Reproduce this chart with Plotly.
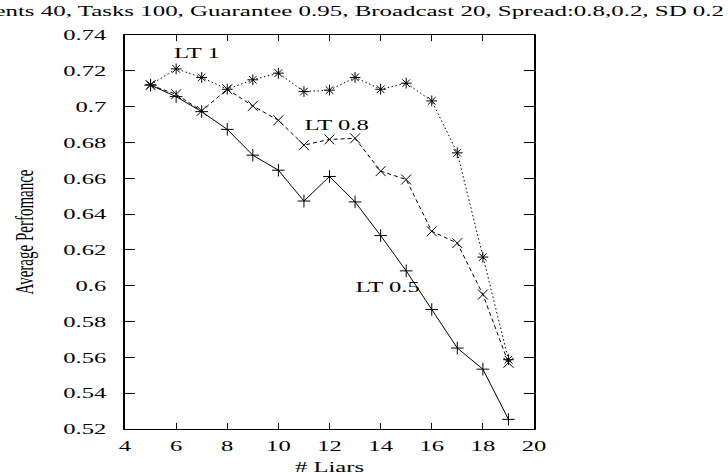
import plotly.graph_objects as go

# ---- data ----
liars = [5, 6, 7, 8, 9, 10, 11, 12, 13, 14, 15, 16, 17, 18, 19]
lt_05 = [0.7120, 0.7056, 0.6972, 0.6873, 0.6729, 0.6645, 0.6473, 0.6610,
         0.6468, 0.6280, 0.6083, 0.5867, 0.5652, 0.5534, 0.5254]
lt_08 = [0.7120, 0.7069, 0.6976, 0.7097, 0.7004, 0.6924, 0.6785, 0.6817,
         0.6823, 0.6640, 0.6593, 0.6304, 0.6238, 0.5951, 0.5570]
lt_1 = [0.7122, 0.7211, 0.7163, 0.7097, 0.7150, 0.7187, 0.7084, 0.7092,
        0.7163, 0.7097, 0.7131, 0.7032, 0.6742, 0.6160, 0.5587]
series_names = ["LT 0.5", "LT 0.8", "LT 1"]
x_tickvals = [4, 6, 8, 10, 12, 14, 16, 18, 20]
y_tickvals = [0.52, 0.54, 0.56, 0.58, 0.60, 0.62, 0.64, 0.66, 0.68, 0.70, 0.72, 0.74]
y_ticktext = ["0.52", "0.54", "0.56", "0.58", "0.6", "0.62", "0.64", "0.66",
              "0.68", "0.7", "0.72", "0.74"]
title_text = "Agents 40, Tasks 100, Guarantee 0.95, Broadcast 20, Spread:0.8,0.2, SD 0.2"
x_title = "# Liars"
y_title = "Average Perfomance"

FONT = "Liberation Serif"
BLACK = "#000000"

fig = go.Figure()

fig.add_trace(go.Scatter(
    x=liars, y=lt_1, name=series_names[2], mode="lines+markers",
    line=dict(color=BLACK, width=1, dash="1.5px,2.5px"),
    marker=dict(symbol="asterisk-open", size=9, color=BLACK, line=dict(color=BLACK, width=1)),
))
fig.add_trace(go.Scatter(
    x=liars, y=lt_08, name=series_names[1], mode="lines+markers",
    line=dict(color=BLACK, width=1, dash="4px,3px"),
    marker=dict(symbol="x-thin-open", size=10, color=BLACK, line=dict(color=BLACK, width=1)),
))
fig.add_trace(go.Scatter(
    x=liars, y=lt_05, name=series_names[0], mode="lines+markers",
    line=dict(color=BLACK, width=1),
    marker=dict(symbol="cross-thin-open", size=9, color=BLACK, line=dict(color=BLACK, width=1)),
))

# in-plot series labels
label_pos = {"LT 1": (6.82, 0.7301), "LT 0.8": (12.27, 0.6897), "LT 0.5": (14.27, 0.5994)}
for name in series_names:
    px, py = label_pos[name]
    fig.add_annotation(x=px, y=py, xref="x", yref="y", text=name, showarrow=False,
                       xanchor="center", yanchor="middle",
                       font=dict(family=FONT, size=15, color=BLACK))

axis_common = dict(
    showline=True, linecolor=BLACK, mirror="allticks", ticks="inside",
    tickcolor=BLACK, tickwidth=1, showgrid=False, zeroline=False,
    automargin=False,
    tickfont=dict(family=FONT, size=15, color=BLACK),
)

fig.update_layout(
    width=728, height=475,
    margin=dict(l=125, r=194, t=35, b=46, autoexpand=False),
    paper_bgcolor="white", plot_bgcolor="white",
    showlegend=False,
    font=dict(family=FONT, size=15, color=BLACK),
    title=dict(text=title_text, xref="container", yref="container", automargin=False,
               x=724 / 728, xanchor="right", y=1 - 11 / 475, yanchor="middle",
               font=dict(family=FONT, size=15.2, color=BLACK)),
    xaxis=dict(range=[4, 20], tickvals=x_tickvals, ticklen=6, linewidth=1,
               ticklabelstandoff=3,
               title=dict(text=x_title, standoff=14,
                          font=dict(family=FONT, size=15, color=BLACK)),
               **axis_common),
    yaxis=dict(range=[0.52, 0.74], tickvals=y_tickvals, ticktext=y_ticktext,
               ticklen=10, linewidth=1.5, ticklabelstandoff=14,
               title=dict(text=y_title, standoff=43,
                          font=dict(family=FONT, size=15, color=BLACK)),
               **axis_common),
)

# The reference was rendered with text stretched horizontally (~1.64x);
# reproduce that by scaling every text element around its anchor point.
post = """
var gd = document.getElementById('{plot_id}');
var K = 1.64;
gd.querySelectorAll('svg text').forEach(function(t){
  var x = parseFloat(t.getAttribute('x') || 0), y = parseFloat(t.getAttribute('y') || 0);
  var tr = t.getAttribute('transform') || '';
  var s = 'translate(' + x + ',' + y + ') scale(' + K + ',1) translate(' + (-x) + ',' + (-y) + ')';
  if (tr.indexOf('rotate') >= 0) { t.setAttribute('transform', s + ' ' + tr); }
  else { t.setAttribute('transform', tr + ' ' + s); }
});
"""

fig.write_html("out.html", post_script=post, config={"responsive": False})
